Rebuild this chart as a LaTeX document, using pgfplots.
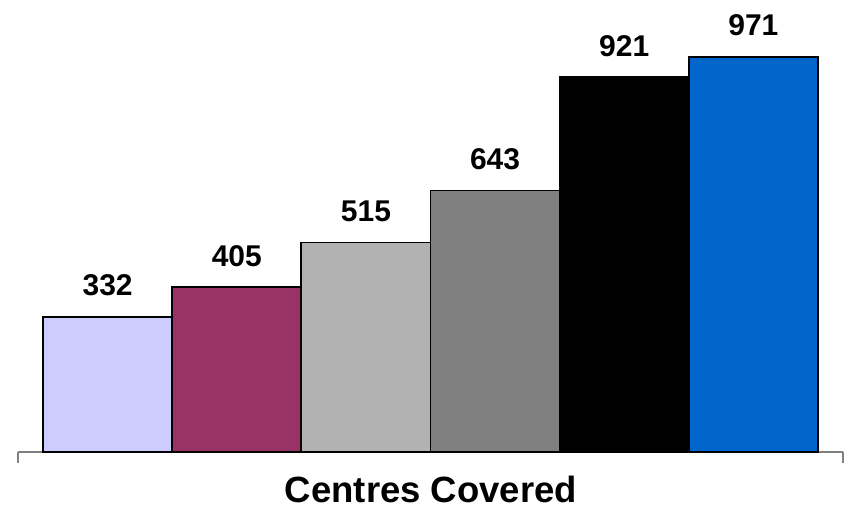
\documentclass[border=0pt]{standalone}
\usepackage{pgfplots}
\pgfplotsset{compat=1.18}
\usepackage{fontspec}
\setmainfont{Liberation Sans}
\definecolor{c1}{RGB}{204,204,255}
\definecolor{c2}{RGB}{153,51,102}
\definecolor{c3}{RGB}{178,178,178}
\definecolor{c4}{RGB}{128,128,128}
\definecolor{c5}{RGB}{0,0,0}
\definecolor{c6}{RGB}{0,102,204}
\begin{document}
\begin{tikzpicture}
\path[use as bounding box] (0,0) rectangle (844pt,509pt);
\begin{axis}[
  at={(18pt,57pt)}, anchor=south west,
  scale only axis,
  x=129.15pt, y=0.4068pt,
  xmin=-0.694, xmax=5.694,
  ymin=0, ymax=1100,
  ybar, bar width=1, bar shift=0pt,
  hide y axis,
  axis x line*=bottom,
  x axis line style={draw=gray, line width=1.2pt, -},
  xtick={-0.694,5.694}, xticklabels={},
  tick align=outside, major tick length=11pt,
  xtick style={draw=gray, line width=1.2pt},
  clip=false,
  nodes near coords={\fontsize{30}{30}\selectfont\bfseries\pgfmathprintnumber[assume math mode=true]{\pgfplotspointmeta}},
  every node near coord/.append style={anchor=base, yshift=21pt, inner sep=0pt, text=black},
  every axis plot/.append style={draw=black, line width=1.8pt},
]
\addplot[fill=c1] coordinates {(0,332)};
\addplot[fill=c2] coordinates {(1,405)};
\addplot[fill=c3] coordinates {(2,515)};
\addplot[fill=c4] coordinates {(3,643)};
\addplot[fill=c5] coordinates {(4,921)};
\addplot[fill=c6] coordinates {(5,971)};
\end{axis}
\node[anchor=base, inner sep=0pt, text depth=0pt] at (431pt,6.5pt) {\fontsize{36.5}{36.5}\selectfont\bfseries Centres Covered};
\end{tikzpicture}
\end{document}
